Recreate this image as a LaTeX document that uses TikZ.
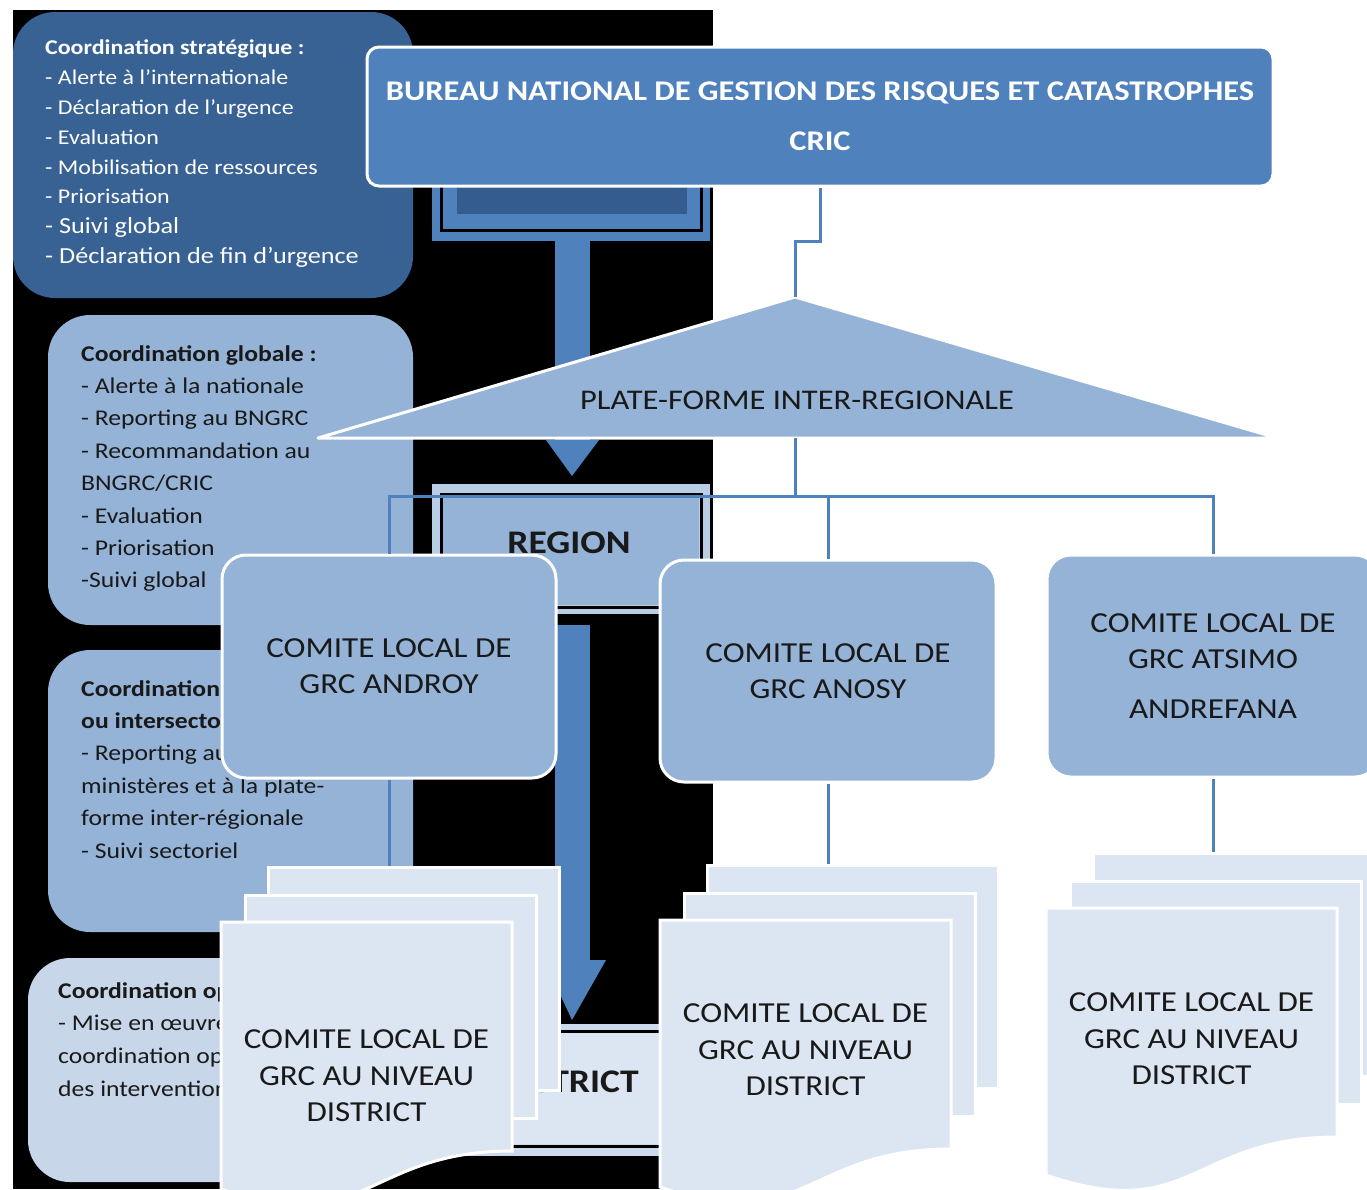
\documentclass[tikz,border=0pt]{standalone}
\usepackage{fontspec}
\setmainfont[FakeStretch=1.14]{Carlito}

\definecolor{bnblue}{RGB}{79,129,189}
\definecolor{dkblue}{RGB}{56,97,148}
\definecolor{innerblue}{RGB}{52,93,142}
\definecolor{ltblue}{RGB}{149,179,215}
\definecolor{frameblue}{RGB}{185,205,229}
\definecolor{paleblue}{RGB}{220,230,242}
\definecolor{coordblue}{RGB}{200,214,234}
\definecolor{txtdark}{RGB}{25,25,25}

\tikzset{
  coordbox/.style={rounded corners=42pt, inner sep=0pt},
  coordtxt/.style={anchor=north west, inner sep=0pt, align=left, text=txtdark},
  link/.style={draw=bnblue, line width=3pt},
  comite/.style={draw=white, line width=3pt, fill=ltblue, rounded corners=24pt,
    align=center, text=txtdark, font=\fontsize{29}{36}\selectfont},
  page/.style={draw=white, line width=3pt, fill=paleblue},
  pagetxt/.style={align=center, text=txtdark, font=\fontsize{29}{36.5}\selectfont},
  levelname/.style={text=txtdark, font=\bfseries\fontsize{33}{40}\selectfont}
}

\begin{document}
\begin{tikzpicture}[x=1pt, y=-1pt]
  \useasboundingbox (0,0) rectangle (1367,1189);
  \clip (0,0) rectangle (1367,1189);
  \fill[white] (0,0) rectangle (1367,1189);
  \fill[black] (13,10) rectangle (713,1189);

  % coordination boxes on the left
  \node[coordbox, fill=dkblue, minimum width=400pt, minimum height=286pt] (strat) at (213,155) {};
  \node[coordbox, fill=ltblue, minimum width=365pt, minimum height=310pt] (glob) at (230.5,470) {};
  \node[coordbox, fill=ltblue, minimum width=365pt, minimum height=282pt] (sect) at (230.5,791) {};
  \node[coordbox, fill=coordblue, minimum width=385pt, minimum height=224pt] (oper) at (220.5,1070) {};

  \node[coordtxt, text=white, font=\fontsize{21}{29.8}\selectfont] (strattxt) at (45,40)
    {\textbf{Coordination stratégique :}\\- Alerte à l’internationale\\- Déclaration de l’urgence\\- Evaluation\\
     - Mobilisation de ressources\\- Priorisation\\{\fontsize{23}{29.8}\selectfont - Suivi global}\\
     {\fontsize{23}{29.8}\selectfont - Déclaration de fin d’urgence}};
  \node[coordtxt, font=\fontsize{22.5}{32.4}\selectfont] (globtxt) at (81,345)
    {\textbf{Coordination globale :}\\- Alerte à la nationale\\- Reporting au BNGRC\\- Recommandation au\\BNGRC/CRIC\\
     - Evaluation\\- Priorisation\\-Suivi global};
  \node[coordtxt, font=\fontsize{22.5}{32.4}\selectfont] (secttxt) at (81,680)
    {\textbf{Coordination sectorielle}\\\textbf{ou intersectorielle :}\\- Reporting aux\\ministères et à la plate-\\
     forme inter-régionale\\- Suivi sectoriel};
  \node[coordtxt, font=\fontsize{22.5}{32.8}\selectfont] (opertxt) at (58,982)
    {\textbf{Coordination opérationnelle :}\\- Mise en œuvre de la\\coordination opérationnelle\\des interventions};

  % levels and arrows in the middle
  \fill[bnblue] (432,150) rectangle (710,241);
  \fill[innerblue] (457,140) rectangle (687,214);
  \draw[black, line width=3pt] (441,140) rectangle (701,230);
  \fill[bnblue] (555,241) rectangle (590,442);
  \fill[bnblue] (546,440) -- (599,440) -- (572,476) -- cycle;

  \fill[frameblue] (432,484) rectangle (710,614);
  \fill[ltblue] (443,496) rectangle (699,605);
  \draw[black, line width=3pt] (441,494) rectangle (701,607);
  \node[levelname] (region) at (569,543) {REGION};

  \fill[bnblue] (555,625) rectangle (590,962);
  \fill[bnblue] (544,960) -- (606,960) -- (572,1020) -- cycle;

  \fill[frameblue!50!paleblue] (432,1024) rectangle (710,1156);
  \fill[paleblue] (443,1033) rectangle (699,1144);
  \draw[black, line width=3pt] (441,1031) rectangle (701,1146);
  \node[levelname] (district) at (569,1082) {DISTRICT};

  % national level
  \coordinate (pfTop) at (795,297);
  \coordinate (pfBot) at (795,438);
  \filldraw[fill=ltblue, draw=white, line width=3pt, line join=round] (pfTop) -- (1277,438) -- (318,438) -- cycle;
  \node[text=txtdark, font=\fontsize{28.5}{34}\selectfont] (pfir) at (797,400) {PLATE-FORME INTER-REGIONALE};

  \node[draw=white, line width=3pt, fill=bnblue, rounded corners=12pt, minimum width=906pt, minimum height=139pt,
    text=white, align=center, font=\bfseries\fontsize{28.5}{50}\selectfont] (bnr) at (820,116.5)
    {BUREAU NATIONAL DE GESTION DES RISQUES ET CATASTROPHES\\CRIC};

  % regional committees
  \node[comite, minimum width=334pt, minimum height=223pt] (androy) at (389,666.5) {COMITE LOCAL DE\\GRC ANDROY};
  \node[comite, minimum width=336pt, minimum height=222pt] (anosy) at (828,671) {COMITE LOCAL DE\\GRC ANOSY};
  \node[comite, minimum width=332pt, minimum height=222pt] (atsimo) at (1213,666) {COMITE LOCAL DE\\GRC ATSIMO\\[14pt]ANDREFANA};

  % district committees
  \foreach \nm/\px/\py/\ty in {dA/221/922/154, dB/660/920/130, dC/1046/908/131}{
    \node[page, anchor=north west, minimum width=291pt, minimum height=223pt] (\nm-b) at (\px+46,\py-56) {};
    \node[page, anchor=north west, minimum width=291pt, minimum height=223pt] (\nm-m) at (\px+23,\py-28) {};
    \filldraw[page] (\px,\py) -- ++(291,0) -- ++(0,229) .. controls +(-145.5,0) and +(145.5,50) .. ++(-291,38) -- cycle;
    \node[pagetxt] (\nm) at (\px+145.5,\py+\ty) {COMITE LOCAL DE\\GRC AU NIVEAU\\DISTRICT};
  }

  \draw[link] (bnr.south) -- ++(0,54) -| (pfTop);
  \draw[link] (pfBot) -- ++(0,58) coordinate (bus);
  \draw[link] (androy.north) |- (bus) -| (atsimo.north);
  \draw[link] (anosy.north) -- (anosy.north |- bus);
  \draw[link] (androy.south) -- (androy.south |- dA-b.north);
  \draw[link] (anosy.south) -- (anosy.south |- dB-b.north);
  \draw[link] (atsimo.south) -- (atsimo.south |- dC-b.north);
\end{tikzpicture}
\end{document}
